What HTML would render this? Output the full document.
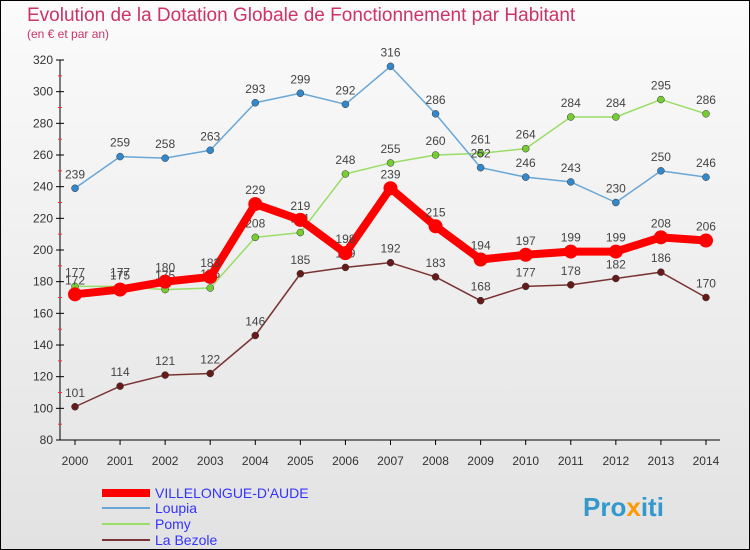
<!DOCTYPE html>
<html><head><meta charset="utf-8"><style>
body{margin:0;width:750px;height:550px;overflow:hidden;font-family:"Liberation Sans",sans-serif}
#wrap{position:relative;width:748px;height:548px;border:1px solid #000;background:linear-gradient(180deg,#fbfbfb 0%,#e2e2e2 100%)}
svg text{font-family:"Liberation Sans",sans-serif}
</style></head><body>
<div id="wrap">
<svg id="chart" width="750" height="550" style="position:absolute;left:-1px;top:-1px">
<text x="27" y="21" font-size="19" fill="#cc3366">Evolution de la Dotation Globale de Fonctionnement par Habitant</text>
<text x="27" y="38" font-size="12" fill="#cc3366">(en € et par an)</text>
<g id="axes"></g><g id="series"></g>
<g>
<line x1="102" y1="493" x2="150" y2="493" stroke="#ff0000" stroke-width="8"/>
<text x="155" y="498" font-size="14" fill="#3333ff">VILLELONGUE-D'AUDE</text>
<line x1="102" y1="508" x2="150" y2="508" stroke="#6aa6d6" stroke-width="2"/>
<text x="155" y="513" font-size="14" fill="#3333ff">Loupia</text>
<line x1="102" y1="524" x2="150" y2="524" stroke="#99dd66" stroke-width="2"/>
<text x="155" y="529" font-size="14" fill="#3333ff">Pomy</text>
<line x1="102" y1="540" x2="150" y2="540" stroke="#7a3333" stroke-width="2"/>
<text x="155" y="545" font-size="14" fill="#3333ff">La Bezole</text>
</g>
<text x="583" y="516" font-size="26" font-weight="bold" fill="#3399cc">Pro<tspan fill="#ff9900">x</tspan>iti</text>
</svg>
</div>
<script>
const years=[2000,2001,2002,2003,2004,2005,2006,2007,2008,2009,2010,2011,2012,2013,2014];
const yTicks=[80,100,120,140,160,180,200,220,240,260,280,300,320];
const villelongue=[172,175,180,183,229,219,198,239,215,194,197,199,199,208,206];
const loupia=[239,259,258,263,293,299,292,316,286,252,246,243,230,250,246];
const pomy=[177,177,175,176,208,211,248,255,260,261,264,284,284,295,286];
const bezole=[101,114,121,122,146,185,189,192,183,168,177,178,182,186,170];
const NS="http://www.w3.org/2000/svg";
const x=i=>75+i*45.07;
const y=v=>440-(v-80)*380/240;
function mk(t,a,p){const e=document.createElementNS(NS,t);for(const k in a)e.setAttribute(k,a[k]);p.appendChild(e);return e;}
const ax=document.getElementById('axes');
const yl=mk('line',{x1:60,y1:60,x2:60,y2:440,stroke:'#000'},ax);


const xl=mk('line',{x1:60,y1:440,x2:720,y2:440,stroke:'#000'},ax);


yTicks.forEach(v=>{
 mk('line',{x1:56,y1:y(v),x2:64,y2:y(v),stroke:'#000'},ax);
 const t=mk('text',{x:53,y:y(v)+4,'font-size':12,'text-anchor':'end',fill:'#333'},ax);t.textContent=v;
 
 
 if(v<320){mk('line',{x1:58,y1:y(v+10),x2:62,y2:y(v+10),stroke:'#e33'},ax);}
});
years.forEach((yr,i)=>{
 mk('line',{x1:x(i),y1:440,x2:x(i),y2:445,stroke:'#000'},ax);
 const t=mk('text',{x:x(i),y:465,'font-size':12,'text-anchor':'middle',fill:'#333'},ax);t.textContent=yr;
 
 
});
const sg=document.getElementById('series');
function series(name,data,color,w,r,dot,labels){
 const g=mk('g',{},sg);
 
 
 const p=mk('polyline',{points:data.map((v,i)=>x(i)+','+y(v)).join(' '),fill:'none',stroke:color,'stroke-width':w,'stroke-linejoin':'round'},g);
 
 
 data.forEach((v,i)=>{
  const c=mk('circle',{cx:x(i),cy:y(v),r:r,fill:dot,stroke:w>3?'none':'#333','stroke-width':0.5},g);
  
  
  if(labels){const t=mk('text',{x:x(i),y:y(v)-10,'font-size':12,'text-anchor':'middle',fill:'#444'},g);t.textContent=v;
  
  }
 });
}
series('la-bezole',bezole,'#7a3333',1.5,3.5,'#661a1a',true);
series('pomy',pomy,'#99dd66',1.5,3.5,'#77cc33',true);
series('loupia',loupia,'#6aa6d6',1.5,3.5,'#3388cc',true);
series('villelongue',villelongue,'#ff0000',8,7,'#ff0000',true);
</script>
</body></html>
